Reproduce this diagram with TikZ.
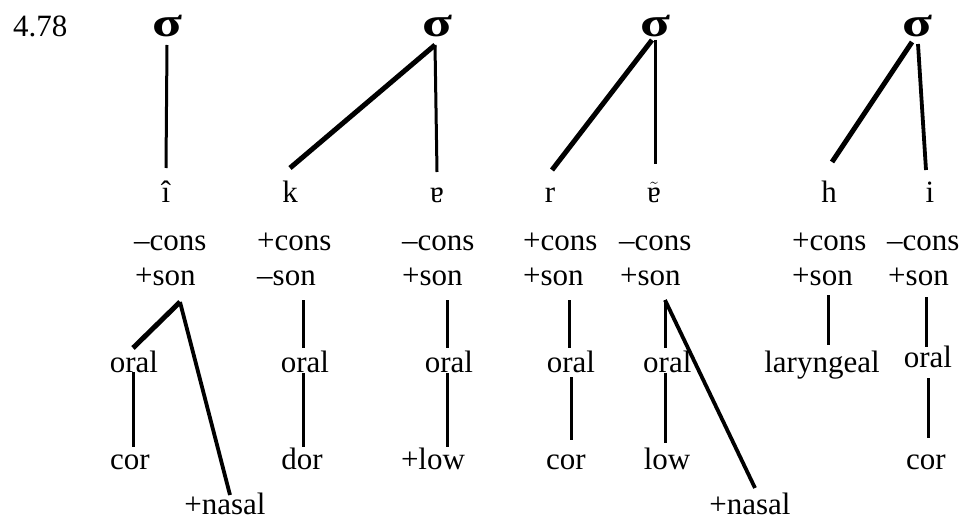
\documentclass[tikz,border=0pt]{standalone}
\usepackage{fontspec}
\setmainfont{Liberation Serif}
\newcommand{\sylsig}{\scalebox{1.45}[1.08]{σ}}
\begin{document}
\begin{tikzpicture}[x=1pt,y=-1pt,
  lbl/.style={inner sep=0pt,anchor=base,font=\fontsize{31}{33}\selectfont},
  lblw/.style={lbl,anchor=base west},
  syl/.style={lbl,font=\fontsize{38}{40}\selectfont\bfseries},
  thin/.style={line width=3pt},
  thick/.style={line width=5pt},
  mid/.style={line width=3.8pt}]
\useasboundingbox (0,0) rectangle (967,519);
% label
\node[lblw] (num) at (13,37) {4.78};
% syllables
\node[syl] (s1) at (167,37) {\sylsig};
\node[syl] (s2) at (437,37) {\sylsig};
\node[syl] (s3) at (655,37) {\sylsig};
\node[syl] (s4) at (917,37) {\sylsig};
% segments
\node[lbl] (i1) at (166,202) {î};
\node[lbl] (k2) at (290,202) {k};
\node[lbl] (a3) at (437,202) {ɐ};
\node[lbl] (r4) at (550,202) {r};
\node[lbl] (e5) at (654,202) {$\tilde{\hbox{ɐ}}$};
\node[lbl] (h6) at (829,202) {h};
\node[lbl] (i7) at (930,202) {i};
% cons row
\node[lblw] (c1) at (134,250) {–cons};
\node[lblw] (c2) at (257,250) {+cons};
\node[lblw] (c3) at (402,250) {–cons};
\node[lblw] (c4) at (523,250) {+cons};
\node[lblw] (c5) at (619,250) {–cons};
\node[lblw] (c6) at (792,250) {+cons};
\node[lblw] (c7) at (887,250) {–cons};
% son row
\node[lblw] (n1) at (135,285) {+son};
\node[lblw] (n2) at (257,285) {–son};
\node[lblw] (n3) at (402,285) {+son};
\node[lblw] (n4) at (523,285) {+son};
\node[lblw] (n5) at (620,285) {+son};
\node[lblw] (n6) at (792,285) {+son};
\node[lblw] (n7) at (888,285) {+son};
% place row
\node[lbl] (o1) at (134,372) {oral};
\node[lbl] (o2) at (305,372) {oral};
\node[lbl] (o3) at (449,372) {oral};
\node[lbl] (o4) at (571,372) {oral};
\node[lblw] (o5) at (643,372) {oral};
\node[lbl] (o6) at (822,372) {laryngeal};
\node[lbl] (o7) at (928,367) {oral};
% articulator row
\node[lbl] (t1) at (130,469) {cor};
\node[lbl] (t2) at (302,469) {dor};
\node[lbl] (t3) at (433,469) {+low};
\node[lbl] (t4) at (566,469) {cor};
\node[lbl] (t5) at (667,469) {low};
\node[lbl] (t7) at (926,469) {cor};
% nasal
\node[lbl] (m1) at (225,514) {+nasal};
\node[lbl] (m5) at (750,514) {+nasal};
% upper connectors
\draw[thin] ([shift={(0,8)}]s1.base) -- ([shift={(0,-34)}]i1.base);
\draw[thick] ([shift={(-2,8)}]s2.base) -- ([shift={(0,-34)}]k2.base);
\draw[thin] ([shift={(-2,8)}]s2.base) -- ([shift={(0,-30)}]a3.base);
\draw[thick] ([shift={(-3,3)}]s3.base) -- ([shift={(2,-32)}]r4.base);
\draw[thin] ([shift={(0,3)}]s3.base) -- ([shift={(1,-38)}]e5.base);
\draw[thick] ([shift={(-5,5)}]s4.base) -- ([shift={(3,-40)}]h6.base);
\draw[mid] ([shift={(1,7)}]s4.base) -- ([shift={(-4,-32)}]i7.base);
% column 1
\draw[thick] ([shift={(45,17)}]n1.base west) -- ([shift={(-1,-24)}]o1.base);
\draw[mid] ([shift={(45,17)}]n1.base west) -- ([shift={(5,-19)}]m1.base);
\draw[thin] ([shift={(-1,0)}]o1.base) -- ([shift={(3,-22)}]t1.base);
% column 2
\draw[thin] ([shift={(46,15)}]n2.base west) -- ([shift={(-2,-24)}]o2.base);
\draw[thin] ([shift={(-2,1)}]o2.base) -- ([shift={(1,-22)}]t2.base);
% column 3
\draw[thin] ([shift={(45,15)}]n3.base west) -- ([shift={(-2,-24)}]o3.base);
\draw[thin] ([shift={(-2,1)}]o3.base) -- ([shift={(14,-22)}]t3.base);
% column 4
\draw[thin] ([shift={(46,15)}]n4.base west) -- ([shift={(-2,-24)}]o4.base);
\draw[thin] ([shift={(0,5)}]o4.base) -- ([shift={(5,-29)}]t4.base);
% column 5
\draw[thin] ([shift={(45,15)}]n5.base west) -- ([shift={(22,-24)}]o5.base west);
\draw[thin] ([shift={(22,1)}]o5.base west) -- ([shift={(-2,-26)}]t5.base);
\draw[mid] ([shift={(45,15)}]n5.base west) -- ([shift={(5,-26)}]m5.base);
% column 6
\draw[thin] ([shift={(36,10)}]n6.base west) -- ([shift={(6,-27)}]o6.base);
% column 7
\draw[thin] ([shift={(38,12)}]n7.base west) -- ([shift={(-2,-20)}]o7.base);
\draw[thin] ([shift={(0,11)}]o7.base) -- ([shift={(2,-31)}]t7.base);
\end{tikzpicture}
\end{document}
